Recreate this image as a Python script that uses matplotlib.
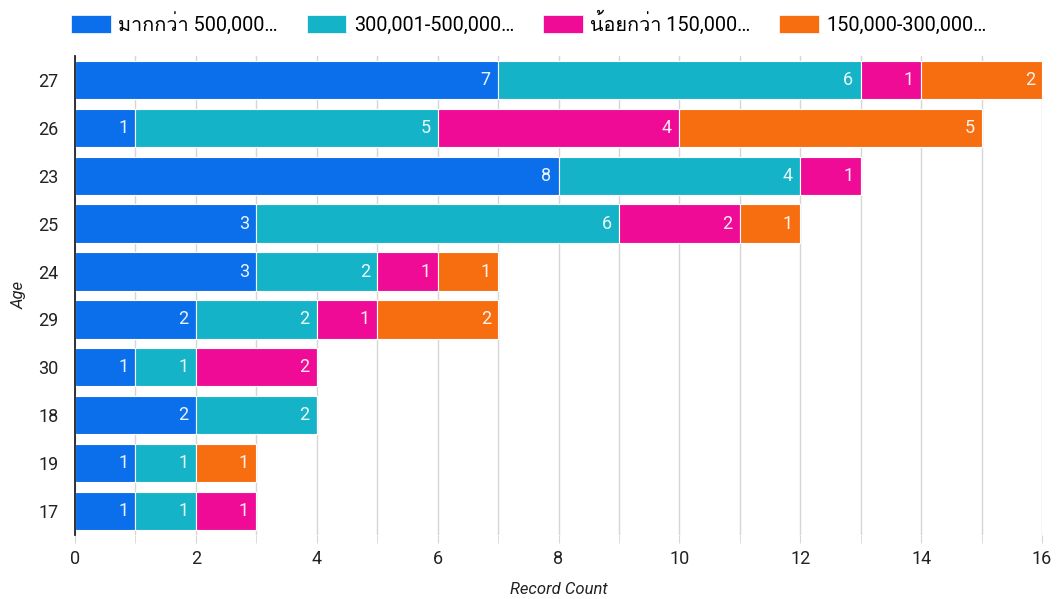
import matplotlib
matplotlib.use("Agg")
import matplotlib.pyplot as plt
from matplotlib import font_manager
from matplotlib.ft2font import FT2Font
from matplotlib.patches import Patch

# Stacked counts per age group, listed top row first
ages = ["27", "26", "23", "25", "24", "29", "30", "18", "19", "17"]
series_names = ["มากกว่า 500,000…", "300,001-500,000…", "น้อยกว่า 150,000…", "150,000-300,000…"]
over_500k = [7, 1, 8, 3, 3, 2, 1, 2, 1, 1]
from_300k_to_500k = [6, 5, 4, 6, 2, 2, 1, 2, 1, 1]
under_150k = [1, 4, 1, 2, 1, 1, 2, 0, 0, 1]
from_150k_to_300k = [2, 5, 0, 1, 1, 2, 0, 0, 1, 0]
series_values = [over_500k, from_300k_to_500k, under_150k, from_150k_to_300k]
colors = ["#0B6FEC", "#14B3C8", "#F00B97", "#F76E10"]
x_ticks = [0, 2, 4, 6, 8, 10, 12, 14, 16]


def thai_family():
    for fe in font_manager.fontManager.ttflist:
        try:
            f = FT2Font(fe.fname)
            if ord("ม") in f.get_charmap():
                return fe.name
        except Exception:
            continue
    return None


families = ["Roboto"]
tf = thai_family()
if tf:
    families.append(tf)
families.append("DejaVu Sans")
plt.rcParams["font.family"] = families

fig = plt.figure(figsize=(10.59, 5.99), dpi=100)
ax = fig.add_axes([0.0708, 0.107, 0.9132, 0.7995])

text_col = "#222222"
y = list(range(len(ages)))
left = [0] * len(ages)
for vals, col in zip(series_values, colors):
    bars = ax.barh(y, vals, left=left, height=0.8, color=col,
                   edgecolor="white", linewidth=0.8, zorder=3)
    for b, v, l in zip(bars, vals, left):
        if v > 0:
            ax.text(l + v - 0.12, b.get_y() + b.get_height() / 2, str(v),
                    ha="right", va="center", color="white", fontsize=13,
                    alpha=0.92, zorder=4)
    left = [a + b for a, b in zip(left, vals)]

ax.set_xlim(0, 16)
ax.set_ylim(len(ages) - 0.5, -0.5)
ax.set_yticks(y)
ax.set_yticklabels(ages, fontsize=13, color=text_col)
ax.set_xticks(x_ticks)
ax.set_xticklabels([str(t) for t in x_ticks], fontsize=13, color=text_col)
ax.set_xticks(range(0, 17), minor=True)
ax.grid(axis="x", which="both", color="#D6D6D6", linewidth=1.0, zorder=0)
ax.tick_params(axis="y", length=0, pad=12)
ax.tick_params(axis="x", which="both", length=6, color="#D6D6D6", pad=5)
for s in ["top", "right", "bottom"]:
    ax.spines[s].set_visible(False)
ax.spines["left"].set_color(text_col)
ax.spines["left"].set_linewidth(1.3)
ax.spines["left"].set_zorder(5)

ax.set_xlabel("Record Count", fontsize=12, style="italic", color=text_col, labelpad=10)
ax.set_ylabel("Age", fontsize=12, style="italic", color=text_col, labelpad=8)

handles = [Patch(facecolor=c, edgecolor="white", linewidth=0.5) for c in colors]
fig.legend(handles, series_names, loc="upper left", bbox_to_anchor=(0.050, 1.012),
           ncol=4, frameon=False, fontsize=14.3, handlelength=2.0,
           handleheight=1.0, handletextpad=0.38, columnspacing=1.45)

fig.savefig("out.png", dpi=100)
